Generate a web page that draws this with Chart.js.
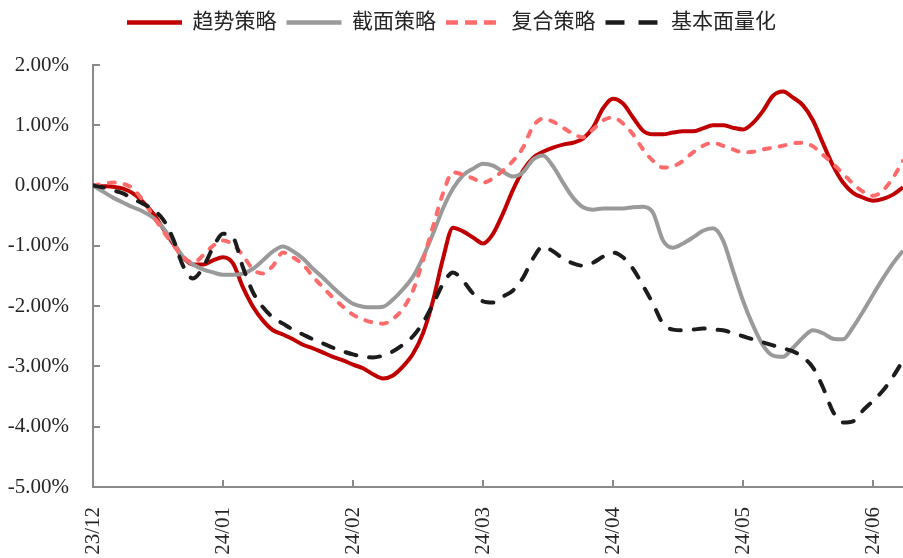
<!DOCTYPE html>
<html>
<head>
<meta charset="utf-8">
<script src="https://cdn.jsdelivr.net/npm/chart.js@4.4.1/dist/chart.umd.min.js"></script>
<style>
  html, body { margin: 0; padding: 0; background: #ffffff; overflow: hidden; }
  #wrap { width: 903px; height: 558px; }
</style>
</head>
<body>
<div id="wrap"><canvas id="c" width="903" height="558"></canvas></div>
<script>
// Month marks on the time axis; samples are spaced evenly between them
const monthTicks = ['23/12', '24/01', '24/02', '24/03', '24/04', '24/05', '24/06'];
const samplesPerMonth = 13;

const seriesNames = ['趋势策略', '截面策略', '复合策略', '基本面量化'];

// Cumulative excess return (%)
const trendStrategy = [
  0, -0.01, -0.02, -0.05, -0.13, -0.27, -0.46, -0.71, -0.96, -1.19,
  -1.31, -1.31, -1.24, -1.19, -1.29, -1.69, -2.01, -2.24, -2.40, -2.47,
  -2.55, -2.64, -2.70, -2.77, -2.84, -2.90, -2.97, -3.03, -3.13, -3.20,
  -3.15, -3.00, -2.79, -2.45, -1.91, -1.21, -0.70, -0.76, -0.86, -0.96,
  -0.80, -0.46, -0.07, 0.25, 0.46, 0.56, 0.63, 0.68, 0.71, 0.78,
  0.96, 1.28, 1.44, 1.36, 1.13, 0.91, 0.85, 0.85, 0.88, 0.90,
  0.90, 0.95, 1.00, 1.00, 0.96, 0.93, 1.04, 1.24, 1.49, 1.56,
  1.46, 1.33, 1.08, 0.70, 0.33, 0.05, -0.12, -0.20, -0.25, -0.22,
  -0.15, -0.03
];

const crossSection = [
  0, -0.10, -0.20, -0.28, -0.36, -0.43, -0.53, -0.70, -0.93, -1.18,
  -1.31, -1.39, -1.44, -1.48, -1.48, -1.46, -1.38, -1.24, -1.09, -1.01,
  -1.09, -1.21, -1.38, -1.53, -1.69, -1.84, -1.96, -2.01, -2.02, -2.01,
  -1.89, -1.72, -1.51, -1.19, -0.80, -0.38, -0.05, 0.17, 0.28, 0.36,
  0.33, 0.23, 0.15, 0.22, 0.43, 0.50, 0.32, 0.05, -0.20, -0.36,
  -0.40, -0.38, -0.38, -0.38, -0.36, -0.35, -0.45, -0.91, -1.03, -0.96,
  -0.86, -0.75, -0.71, -0.91, -1.41, -1.91, -2.32, -2.65, -2.82, -2.84,
  -2.69, -2.52, -2.40, -2.45, -2.54, -2.55, -2.35, -2.09, -1.81, -1.54,
  -1.29, -1.08
];

const composite = [
  0, 0.03, 0.05, 0.03, -0.05, -0.25, -0.50, -0.75, -0.98, -1.18,
  -1.28, -1.16, -1.00, -0.91, -0.98, -1.16, -1.39, -1.46, -1.33, -1.11,
  -1.19, -1.31, -1.51, -1.69, -1.86, -2.01, -2.14, -2.22, -2.27, -2.29,
  -2.21, -2.04, -1.74, -1.24, -0.68, -0.13, 0.22, 0.18, 0.12, 0.05,
  0.12, 0.25, 0.41, 0.63, 0.98, 1.11, 1.06, 0.96, 0.86, 0.80,
  0.93, 1.08, 1.13, 1.03, 0.85, 0.60, 0.41, 0.30, 0.32, 0.41,
  0.55, 0.66, 0.71, 0.66, 0.60, 0.55, 0.56, 0.60, 0.63, 0.66,
  0.70, 0.71, 0.65, 0.51, 0.36, 0.20, 0.03, -0.10, -0.17, -0.08,
  0.13, 0.41
];

const fundamentalQuant = [
  0, -0.03, -0.08, -0.13, -0.22, -0.30, -0.40, -0.56, -0.88, -1.33,
  -1.54, -1.36, -1.03, -0.80, -0.86, -1.36, -1.77, -2.02, -2.19, -2.29,
  -2.39, -2.47, -2.55, -2.62, -2.69, -2.75, -2.80, -2.84, -2.85, -2.82,
  -2.75, -2.64, -2.50, -2.27, -1.97, -1.63, -1.44, -1.58, -1.79, -1.92,
  -1.94, -1.84, -1.74, -1.53, -1.21, -1.01, -1.09, -1.21, -1.29, -1.33,
  -1.28, -1.18, -1.11, -1.19, -1.38, -1.66, -1.96, -2.29, -2.39, -2.40,
  -2.39, -2.37, -2.39, -2.40, -2.45, -2.50, -2.55, -2.60, -2.65, -2.70,
  -2.75, -2.85, -3.02, -3.35, -3.75, -3.93, -3.91, -3.73, -3.57, -3.40,
  -3.17, -2.90
];

const yTickMin = -5;
const yTickMax = 2;
const yTickStep = 1;

const AXIS_COLOR = '#8a8a8a';
const TEXT_COLOR = '#262626';
const NUM_FONT = "'Liberation Serif', 'DejaVu Serif', serif";
const CJK_FONT = "'Liberation Serif', 'Noto Sans CJK SC', serif";

const toPoints = arr => arr.map((v, i) => ({ x: i, y: v }));
const lastIndex = trendStrategy.length - 1;

// Reserve a fixed band for the legend above the plot
const legendBand = {
  id: 'legendBand',
  afterInit(chart) {
    const legend = chart.legend;
    const fit = legend.fit;
    legend.fit = function () {
      fit.call(this);
      this.height = 63;
    };
  }
};

// Tick marks pointing into the plot area
const innerTicks = {
  id: 'innerTicks',
  beforeDatasetsDraw(chart) {
    const { ctx, chartArea, scales } = chart;
    const len = 7;
    ctx.save();
    ctx.strokeStyle = AXIS_COLOR;
    ctx.lineWidth = 2;
    ctx.beginPath();
    scales.y.ticks.forEach(t => {
      const y = Math.round(scales.y.getPixelForValue(t.value));
      ctx.moveTo(chartArea.left, y);
      ctx.lineTo(chartArea.left + len, y);
    });
    scales.x.ticks.forEach((t, i) => {
      if (i === 0) return;
      const x = Math.round(scales.x.getPixelForValue(t.value));
      ctx.moveTo(x, chartArea.bottom);
      ctx.lineTo(x, chartArea.bottom - len);
    });
    ctx.stroke();
    ctx.restore();
  }
};

// Legend swatch dash patterns (butt caps, so slightly longer dashes)
const legendDash = [[], [], [12, 7], [19, 14]];

const makeSet = (label, data, color, dash, order) => ({
  label,
  data: toPoints(data),
  borderColor: color,
  backgroundColor: color,
  borderWidth: 4,
  borderDash: dash,
  borderCapStyle: dash.length ? 'round' : 'butt',
  pointRadius: 0,
  pointHoverRadius: 0,
  cubicInterpolationMode: 'monotone',
  fill: false,
  order
});

new Chart(document.getElementById('c'), {
  type: 'line',
  data: {
    datasets: [
      makeSet(seriesNames[0], trendStrategy, '#C00000', [], 4),
      makeSet(seriesNames[1], crossSection, '#9A9A9A', [], 3),
      makeSet(seriesNames[2], composite, '#FF6B6B', [6, 10], 2),
      makeSet(seriesNames[3], fundamentalQuant, '#1C1C1C', [11, 13], 1)
    ]
  },
  options: {
    responsive: false,
    animation: false,
    devicePixelRatio: 1,
    layout: { padding: { top: 2, left: 0, right: 0, bottom: 0 } },
    plugins: {
      tooltip: { enabled: false },
      legend: {
        position: 'top',
        align: 'center',
        labels: {
          usePointStyle: true,
          pointStyle: 'line',
          pointStyleWidth: 55,
          padding: 10,
          color: TEXT_COLOR,
          font: { family: CJK_FONT, size: 21 },
          sort: (a, b) => a.datasetIndex - b.datasetIndex,
          generateLabels(chart) {
            const items = Chart.defaults.plugins.legend.labels.generateLabels(chart);
            items.forEach(item => {
              const ds = chart.data.datasets[item.datasetIndex];
              item.strokeStyle = ds.borderColor;
              item.fillStyle = ds.borderColor;
              item.lineWidth = 4.5;
              item.lineCap = 'butt';
              item.lineDash = legendDash[item.datasetIndex];
              item.pointStyle = 'line';
            });
            return items;
          }
        }
      }
    },
    scales: {
      x: {
        type: 'linear',
        min: 0,
        max: lastIndex,
        grid: { display: false },
        border: { display: true, color: AXIS_COLOR, width: 2 },
        afterBuildTicks(scale) {
          scale.ticks = monthTicks.map((_, i) => ({ value: i * samplesPerMonth }));
        },
        afterFit(scale) {
          scale.height = 71;
          scale.paddingLeft = 0;
          scale.paddingRight = 0;
        },
        ticks: {
          autoSkip: false,
          minRotation: 90,
          maxRotation: 90,
          padding: 12,
          color: TEXT_COLOR,
          font: { family: NUM_FONT, size: 21 },
          callback: (value, index) => monthTicks[index]
        }
      },
      y: {
        min: yTickMin,
        max: yTickMax,
        grid: { display: false },
        border: { display: true, color: AXIS_COLOR, width: 2 },
        afterFit(scale) {
          scale.width = 93;
          scale.paddingTop = 0;
        },
        ticks: {
          stepSize: yTickStep,
          padding: 16,
          color: TEXT_COLOR,
          font: { family: NUM_FONT, size: 21 },
          callback: v => v.toFixed(2) + '%'
        }
      }
    }
  },
  plugins: [legendBand, innerTicks]
});
</script>
</body>
</html>
